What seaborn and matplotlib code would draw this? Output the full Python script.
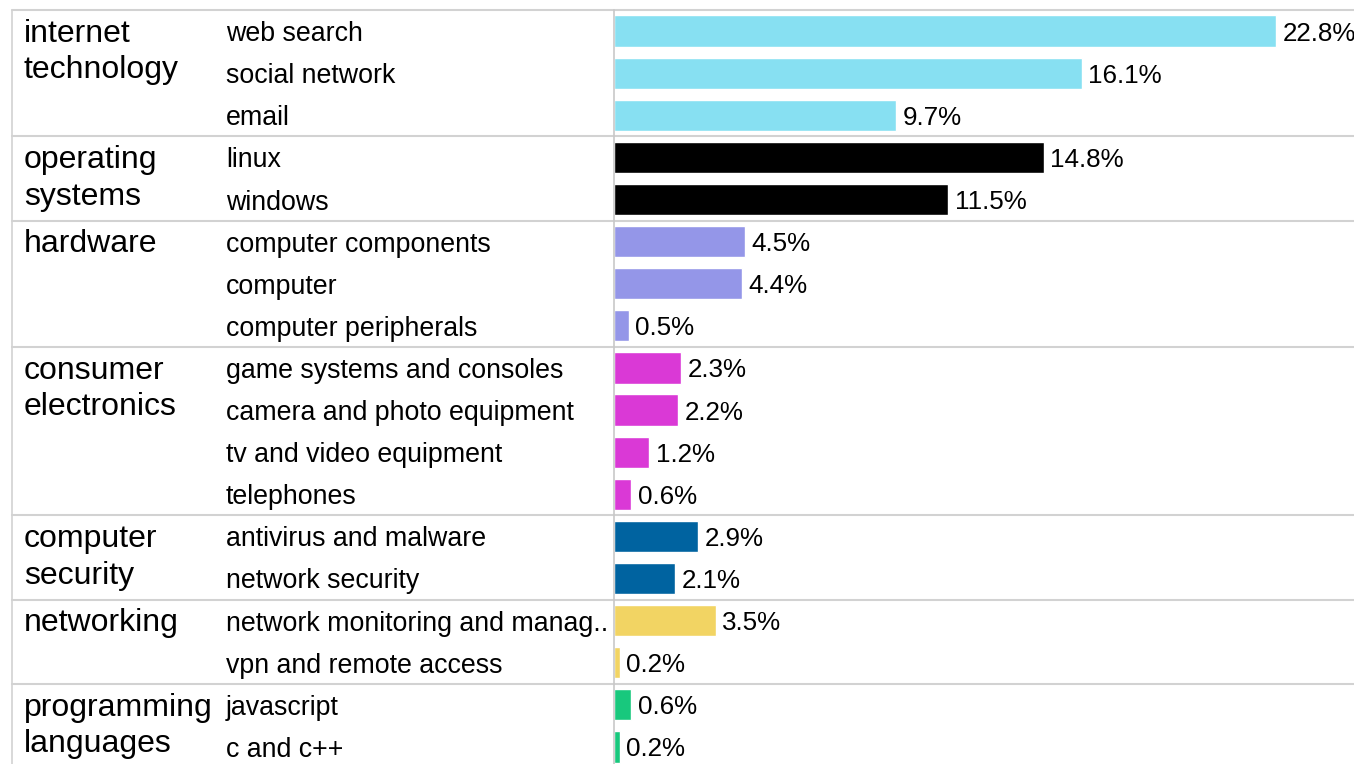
#TOPIC SHARE BY CATEGORY

#1.Import Libraries

import pandas as pd
import numpy as np
import matplotlib.pyplot as plt
import matplotlib.transforms as mtransforms
from matplotlib.lines import Line2D
import seaborn as sns

#2.Data

groups=['internet technology','operating systems','hardware','consumer electronics',
        'computer security','networking','programming languages']
group_sizes=[3,2,3,4,2,2,2]
group_colors=['#87E0F2','#000000','#9496E8','#DA39D6','#0063A0','#F2D463','#18C87D']
topics=['web search','social network','email',
        'linux','windows',
        'computer components','computer','computer peripherals',
        'game systems and consoles','camera and photo equipment','tv and video equipment','telephones',
        'antivirus and malware','network security',
        'network monitoring and manag..','vpn and remote access',
        'javascript','c and c++']
shares=[22.8,16.1,9.7,
        14.8,11.5,
        4.5,4.4,0.5,
        2.3,2.2,1.2,0.6,
        2.9,2.1,
        3.5,0.2,
        0.6,0.2]

df=pd.DataFrame({'topic':topics,'share':shares,
                 'group':np.repeat(groups,group_sizes)})

#3.Style

sns.set_style('white')
plt.rcParams['font.family']=['Liberation Sans','DejaVu Sans']
plt.rcParams['text.color']='black'

W,H=1354,764
fig=plt.figure(figsize=(W/100,H/100),dpi=100)

#bars area: x from 614px to right edge, rows 42.1px high starting at 10px
x0=614
top_px,bot_px=10,768
ax=fig.add_axes([x0/W,(H-bot_px)/H,(W-x0)/W,(bot_px-top_px)/H])

#4.Bars

sns.barplot(data=df,y='topic',x='share',hue='group',order=topics,hue_order=groups,
            palette=group_colors,width=0.74,orient='h',legend=False,ax=ax,
            saturation=1)
for c in ax.containers:
    labels=ax.bar_label(c,fmt='{:.1f}%',padding=4.8,fontsize=18.7,color='black',clip_on=False)
    for t in labels:
        t.set_va('center_baseline')

ax.set_xlim(0,(W-x0)/29.04)
ax.set_ylim(len(topics)-0.5,-0.5)
ax.set_xlabel('')
ax.set_ylabel('')
ax.set_xticks([])
ax.set_yticks([])
for s in ['top','right','bottom']:
    ax.spines[s].set_visible(False)
ax.spines['left'].set_color('#c8c8c8')
ax.spines['left'].set_linewidth(1.2)

#5.Left labels and separators

trans=mtransforms.blended_transform_factory(fig.transFigure,ax.transData)
left_frac=-(x0-12)/(W-x0)

start=0
for g,n in zip(groups,group_sizes):
    ax.axhline(start-0.5,xmin=left_frac,xmax=1,color='#d2d2d2',lw=1.5,clip_on=False)
    ax.text(24/W,start-0.29,g.replace(' ','\n'),transform=trans,ha='left',va='top',
            fontsize=23,linespacing=1.28,color='black',clip_on=False)
    start+=n

for i,t in enumerate(topics):
    ax.text(226/W,i,t,transform=trans,ha='left',va='center_baseline',fontsize=19.3,
            color='black',clip_on=False)

fig.add_artist(Line2D([12/W,12/W],[0,(H-top_px)/H],transform=fig.transFigure,
                      color='#d2d2d2',lw=1.2))

plt.savefig('out.png',dpi=100)
